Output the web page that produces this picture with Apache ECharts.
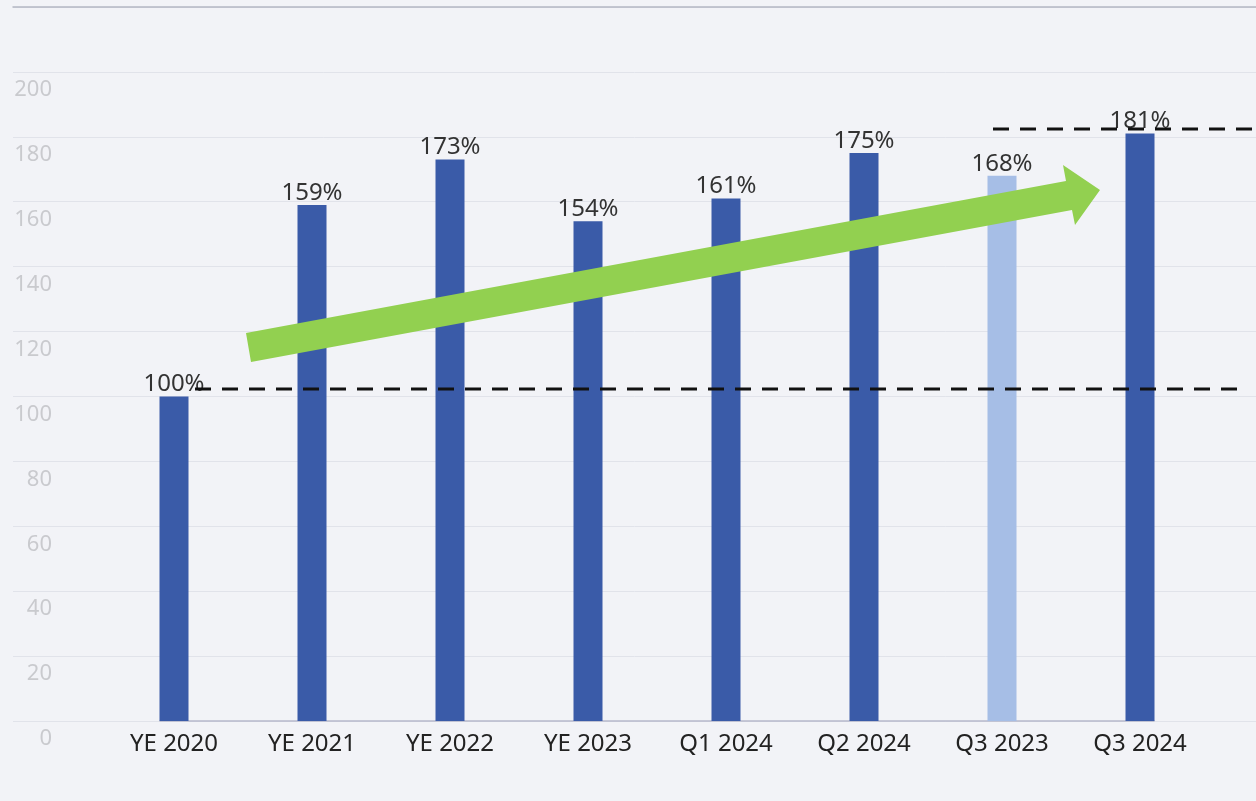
<!DOCTYPE html>
<html>
<head>
<meta charset="utf-8">
<script src="https://cdn.jsdelivr.net/npm/echarts@6/dist/echarts.min.js"></script>
<style>
  html, body { margin: 0; padding: 0; background: #f2f3f7; }
  #chart { width: 1256px; height: 801px; }
</style>
</head>
<body>
<div id="chart"></div>
<script>
// chart data
const categories = ['YE 2020', 'YE 2021', 'YE 2022', 'YE 2023', 'Q1 2024', 'Q2 2024', 'Q3 2023', 'Q3 2024'];
const values = [100, 159, 173, 154, 161, 175, 168, 181];
const highlightCat = 'Q3 2023';
const yTicks = [0, 20, 40, 60, 80, 100, 120, 140, 160, 180, 200, 220];

// annotation levels (dashed reference lines)
const refLow = 102.3;
const refHigh = 182.4;

const darkBlue = '#3a5ba8';
const lightBlue = '#a6bee6';
const font = 'Noto Sans';

let myChart = echarts.init(document.getElementById('chart'));

let barData = values.map((v, i) => ({
  value: v,
  itemStyle: { color: categories[i] === highlightCat ? lightBlue : darkBlue }
}));

let option = {
  backgroundColor: '#f2f3f7',
  animation: false,
  grid: [
    { left: 13, right: 0, top: 7, bottom: 80 },   // gridlines + y labels
    { left: 105, right: 47, top: 7, bottom: 80 }, // bars
    { left: 160, right: 102, top: 7, bottom: 80 } // base axis line
  ],
  xAxis: [
    {
      gridIndex: 0, type: 'value', position: 'top',
      axisLine: { show: true, onZero: false, lineStyle: { color: '#b4b8c4', width: 1.5 } },
      axisTick: { show: false }, axisLabel: { show: false }, splitLine: { show: false }
    },
    {
      gridIndex: 1, type: 'category', data: categories,
      axisLine: { show: false }, axisTick: { show: false },
      axisLabel: { color: '#222', fontSize: 24, fontFamily: font, margin: 11 }
    },
    {
      gridIndex: 2, type: 'category', data: categories,
      axisLine: { show: true, onZero: false, lineStyle: { color: '#b6b9cb', width: 1.5 } },
      axisTick: { show: false }, axisLabel: { show: false }
    }
  ],
  yAxis: [
    {
      gridIndex: 0, type: 'value', min: yTicks[0], max: yTicks[yTicks.length - 1], interval: 20,
      axisLine: { show: false }, axisTick: { show: false },
      splitLine: { lineStyle: { color: '#e1e3ea', width: 1 } },
      axisLabel: {
        inside: true, align: 'right', verticalAlign: 'top', margin: 39,
        padding: [7, 0, 0, 0], showMaxLabel: false,
        color: '#c9cace', fontSize: 22, fontFamily: font
      }
    },
    { gridIndex: 1, type: 'value', min: 0, max: 220, show: false },
    { gridIndex: 2, type: 'value', min: 0, max: 220, show: false }
  ],
  series: [
    {
      type: 'bar',
      xAxisIndex: 1,
      yAxisIndex: 1,
      barWidth: 29,
      data: barData,
      label: {
        show: true, position: 'top', distance: 0,
        formatter: '{c}%', color: '#333', fontSize: 24, fontFamily: font
      }
    }
  ]
};

myChart.setOption(option);

// overlay annotations: dashed reference lines and trend arrow
let yLow = myChart.convertToPixel({ yAxisIndex: 1 }, refLow);
let yHigh = myChart.convertToPixel({ yAxisIndex: 1 }, refHigh);
let dash = { stroke: '#111', lineWidth: 3, lineDash: [16, 11] };

myChart.setOption({
  graphic: [
    {
      type: 'polygon', z: 100,
      shape: {
        points: [[246, 333], [1066, 181], [1063, 165], [1100, 190], [1075, 225], [1072, 210], [251, 362]]
      },
      style: { fill: '#92d050' }
    },
    { type: 'line', z: 101, shape: { x1: 195, y1: yLow, x2: 1243, y2: yLow }, style: dash },
    { type: 'line', z: 101, shape: { x1: 993, y1: yHigh, x2: 1256, y2: yHigh }, style: dash }
  ]
});
</script>
</body>
</html>
